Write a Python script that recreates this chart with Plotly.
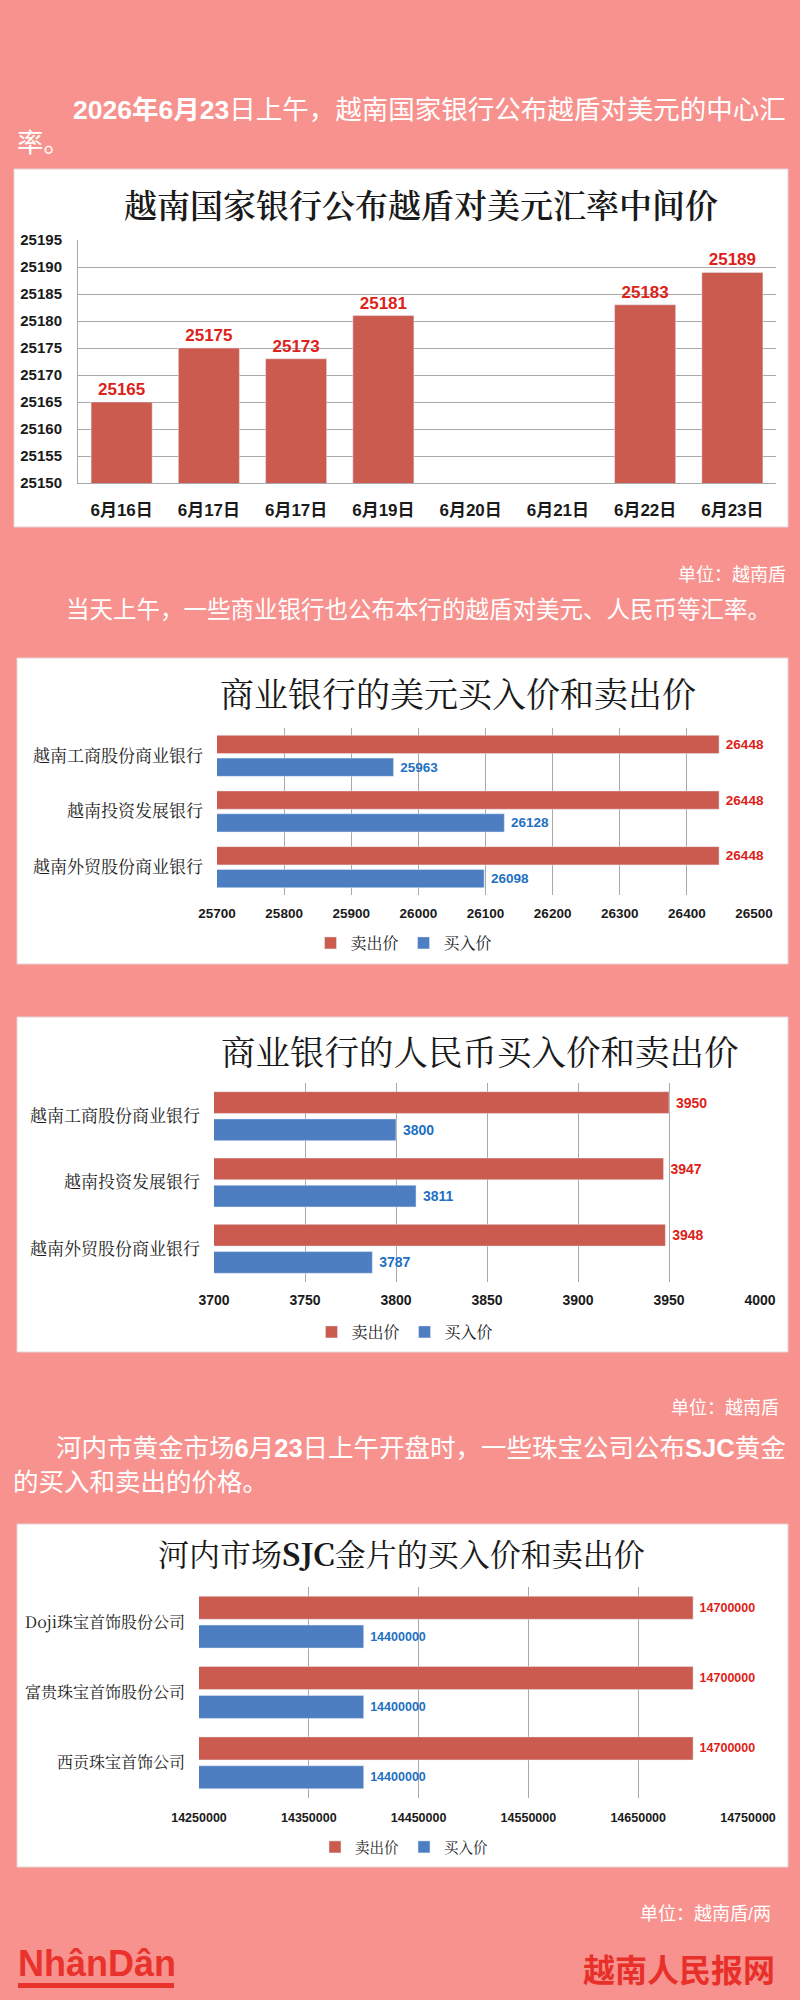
import plotly.graph_objects as go

W, H = 800, 2000
BG = "#F8928E"
RED = "#CB5A4F"
BLUE = "#4E7EC2"
RED_TXT = "#DD2219"
BLUE_TXT = "#1E70C4"
GRID = "#A9A9A9"
SANS = "Liberation Sans, Noto Sans CJK SC, sans-serif"
CJK = "Noto Sans CJK SC, sans-serif"
SERIF = "Noto Serif CJK SC, Noto Sans CJK SC, serif"

# ---- Chart 1 data ----
dates = ["6月16日", "6月17日", "6月17日", "6月19日", "6月20日", "6月21日", "6月22日", "6月23日"]
mid_rate = [25165, 25175, 25173, 25181, None, None, 25183, 25189]
mid_range = [25150, 25195]
mid_step = 5

# ---- Chart 2 data ----
banks = ["越南工商股份商业银行", "越南投资发展银行", "越南外贸股份商业银行"]
usd_sell = [26448, 26448, 26448]
usd_buy = [25963, 26128, 26098]
usd_range = [25700, 26500]
usd_step = 100

# ---- Chart 3 data ----
cny_sell = [3950, 3947, 3948]
cny_buy = [3800, 3811, 3787]
cny_range = [3700, 4000]
cny_step = 50

# ---- Chart 4 data ----
gold_cos = ["Doji珠宝首饰股份公司", "富贵珠宝首饰股份公司", "西贡珠宝首饰公司"]
gold_sell = [14700000, 14700000, 14700000]
gold_buy = [14400000, 14400000, 14400000]
gold_range = [14250000, 14750000]
gold_step = 100000

series_names = ["卖出价", "买入价"]


def px(x):
    return x / W


def py(y):
    return 1 - y / H


fig = go.Figure()

# Chart 1
fig.add_trace(go.Bar(
    x=list(range(len(dates))), y=mid_rate, marker_color=RED, width=0.7,
    text=mid_rate, texttemplate="%{y:.0f}", textposition="outside",
    textfont=dict(color=RED_TXT, size=17, family=SANS, weight="bold"), cliponaxis=False,
    constraintext="none", showlegend=False, xaxis="x", yaxis="y",
))

# Horizontal grouped charts
groups = [
    (banks, usd_sell, usd_buy, "x2", "y2", "legend", 13.5),
    (banks, cny_sell, cny_buy, "x3", "y3", "legend2", 14),
    (gold_cos, gold_sell, gold_buy, "x4", "y4", "legend3", 12.5),
]
for cats, sell, buy, xa, ya, lg, fs in groups:
    for vals, name, col, tcol in [(sell, series_names[0], RED, RED_TXT),
                                  (buy, series_names[1], BLUE, BLUE_TXT)]:
        fig.add_trace(go.Bar(
            y=cats, x=vals, orientation="h", name=name, marker_color=col,
            text=vals, texttemplate="\u00a0%{x:.0f}", textposition="outside",
            textfont=dict(color=tcol, size=fs, family=SANS, weight="bold"), cliponaxis=False,
            constraintext="none", xaxis=xa, yaxis=ya, legend=lg,
        ))

tick_bold = lambda s: dict(family=SANS, size=s, color="#1a1a1a", weight="bold")

layout = dict(
    width=W, height=H, margin=dict(l=0, r=0, t=0, b=0, autoexpand=False),
    paper_bgcolor=BG, plot_bgcolor="white",
    barmode="group", bargap=0.18, bargroupgap=0.2,
    # chart 1
    xaxis=dict(domain=[px(78), px(776)], anchor="y", range=[-0.5, len(dates) - 0.5],
               tickvals=list(range(len(dates))), ticktext=dates, showgrid=False,
               tickfont=tick_bold(17), ticklabelstandoff=12, showline=True,
               linecolor=GRID, zeroline=False, automargin=False),
    yaxis=dict(domain=[py(483), py(240)], anchor="x", range=mid_range, dtick=mid_step,
               tickformat="d", gridcolor=GRID, showline=True, linecolor=GRID,
               tickfont=tick_bold(15), ticklabelstandoff=12, zeroline=False,
               automargin=False),
    # chart 2
    xaxis2=dict(domain=[px(217), px(754)], anchor="y2", range=usd_range, dtick=usd_step,
                tick0=usd_range[0], tickformat="d", gridcolor=GRID, tickfont=tick_bold(13.5),
                ticklabelstandoff=8, zeroline=False, automargin=False),
    yaxis2=dict(domain=[py(895), py(728)], anchor="x2", autorange="reversed",
                showgrid=False, tickfont=dict(family=SERIF, size=17, color="#1a1a1a"),
                ticklabelstandoff=13, automargin=False),
    # chart 3
    xaxis3=dict(domain=[px(214), px(760)], anchor="y3", range=cny_range, dtick=cny_step,
                tick0=cny_range[0], tickformat="d", gridcolor=GRID, tickfont=tick_bold(14),
                ticklabelstandoff=8, zeroline=False, automargin=False),
    yaxis3=dict(domain=[py(1282), py(1083)], anchor="x3", autorange="reversed",
                showgrid=False, tickfont=dict(family=SERIF, size=17, color="#1a1a1a"),
                ticklabelstandoff=13, automargin=False),
    # chart 4
    xaxis4=dict(domain=[px(199), px(748)], anchor="y4", range=gold_range, dtick=gold_step,
                tick0=gold_range[0], tickformat="d", gridcolor=GRID, tickfont=tick_bold(12.5),
                ticklabelstandoff=10, zeroline=False, automargin=False),
    yaxis4=dict(domain=[py(1798), py(1587)], anchor="x4", autorange="reversed",
                showgrid=False, tickfont=dict(family=SERIF, size=16, color="#1a1a1a"),
                ticklabelstandoff=13, automargin=False),
    legend=dict(orientation="h", x=px(404), y=py(943), xanchor="center", yanchor="middle",
                font=dict(family=SERIF, size=16, color="#1a1a1a"), itemwidth=30,
                bgcolor="rgba(0,0,0,0)"),
    legend2=dict(orientation="h", x=px(405), y=py(1332), xanchor="center", yanchor="middle",
                 font=dict(family=SERIF, size=16, color="#1a1a1a"), itemwidth=30,
                 bgcolor="rgba(0,0,0,0)"),
    legend3=dict(orientation="h", x=px(404), y=py(1847), xanchor="center", yanchor="middle",
                 font=dict(family=SERIF, size=14.5, color="#1a1a1a"), itemwidth=30,
                 bgcolor="rgba(0,0,0,0)"),
)
fig.update_layout(**layout)

# White boxes
shapes = []
for (x0, y0, x1, y1) in [(14, 169, 788, 527), (17, 658, 788, 964),
                         (17, 1017, 788, 1352), (17, 1524, 788, 1867)]:
    shapes.append(dict(type="rect", xref="paper", yref="paper", x0=px(x0), x1=px(x1),
                       y0=py(y1), y1=py(y0), fillcolor="white",
                       line=dict(color="#E6D6D6", width=1), layer="below"))
# logo underline
shapes.append(dict(type="rect", xref="paper", yref="paper", x0=px(18), x1=px(174),
                   y0=py(1988), y1=py(1983), fillcolor="#E8322B", line=dict(width=0)))
fig.update_layout(shapes=shapes)


def ann(text, x, y, size, color="white", xanchor="left", family=CJK, yanchor="middle", weight=None):
    f = dict(size=size, color=color, family=family)
    if weight:
        f["weight"] = weight
    fig.add_annotation(text=text, x=px(x), y=py(y), xref="paper", yref="paper",
                       xanchor=xanchor, yanchor=yanchor, showarrow=False, font=f)


PAR = "Liberation Sans, Noto Sans CJK SC, sans-serif"
ann("<b>2026年6月23</b>日上午，越南国家银行公布越盾对美元的中心汇", 71, 110, 26.5, family=PAR)
ann("率。", 15, 143, 26.5, family=PAR)
ann("越南国家银行公布越盾对美元汇率中间价", 421, 203, 33, color="#1a1a1a", xanchor="center",
    family=SERIF, weight=600)
ann("单位：越南盾", 788, 575, 18, xanchor="right", family=PAR)
ann("当天上午，一些商业银行也公布本行的越盾对美元、人民币等汇率。", 64, 610, 23.5, family=PAR)
ann("商业银行的美元买入价和卖出价", 458, 692, 34, color="#1a1a1a", xanchor="center", family=SERIF)
ann("商业银行的人民币买入价和卖出价", 480, 1050, 34.5, color="#1a1a1a", xanchor="center", family=SERIF)
ann("单位：越南盾", 781, 1408, 18, xanchor="right", family=PAR)
ann("河内市黄金市场<b>6</b>月<b>23</b>日上午开盘时，一些珠宝公司公布<b>SJC</b>黄金", 54, 1448, 25.5, family=PAR)
ann("的买入和卖出的价格。", 11, 1482, 25.5, family=PAR)
ann("河内市场<b>SJC</b>金片的买入价和卖出价", 402, 1552, 31, color="#1a1a1a", xanchor="center", family=SERIF)
ann("单位：越南盾/两", 773, 1914, 18, xanchor="right", family=PAR)
ann("<b>NhânDân</b>", 16, 1963, 36, color="#E8322B", family="Liberation Sans, sans-serif")
ann("<b>越南人民报网</b>", 777, 1968, 32, color="#E8302A", xanchor="right", family=CJK)

fig.write_html(
    "out.html",
    config={"displayModeBar": False},
    post_script="document.body.style.margin='0';document.body.style.background='%s';" % BG,
)
